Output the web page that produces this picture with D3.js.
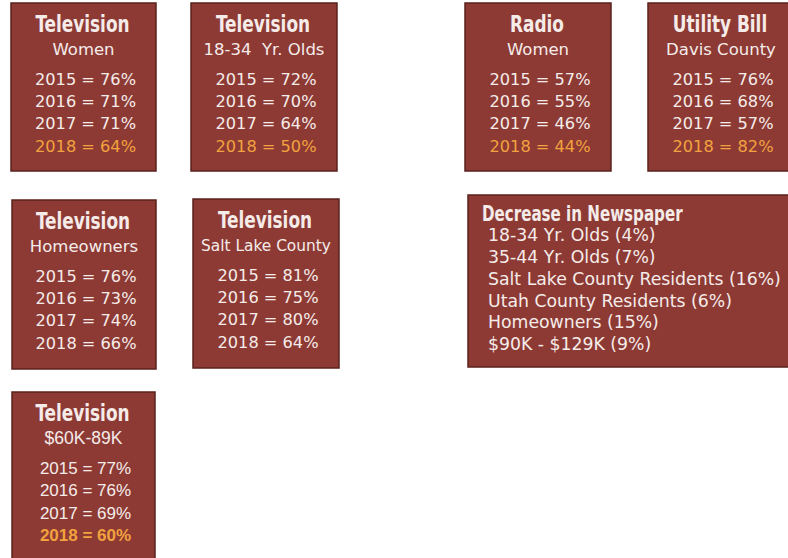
<!DOCTYPE html>
<html>
<head>
<meta charset="utf-8">
<script src="https://cdn.jsdelivr.net/npm/d3@7"></script>
<style>
  html, body { margin: 0; padding: 0; background: #ffffff; }
  svg { display: block; }
</style>
</head>
<body>
<svg id="chart" width="788" height="558"></svg>
<script>
// ---- DATA ----
const years = ["2015", "2016", "2017", "2018"];
const titles = ["Television", "Television", "Radio", "Utility Bill", "Television", "Television", "Television"];
const subtitles = ["Women", "18-34  Yr. Olds", "Women", "Davis County", "Homeowners", "Salt Lake County", "$60K-89K"];
const values = [
  [76, 71, 71, 64],
  [72, 70, 64, 50],
  [57, 55, 46, 44],
  [76, 68, 57, 82],
  [76, 73, 74, 66],
  [81, 75, 80, 64],
  [77, 76, 69, 60]
];
const highlightLatest = [true, true, true, true, false, false, true];
const newspaperTitle = "Decrease in Newspaper";
const newspaperGroups = ["18-34 Yr. Olds", "35-44 Yr. Olds", "Salt Lake County Residents", "Utah County Residents", "Homeowners", "$90K - $129K"];
const newspaperDecrease = [4, 7, 16, 6, 15, 9];

// ---- LAYOUT (positions & styles) ----
const boxLayout = [
  { x: 11, y: 3, w: 145, h: 168 },
  { x: 191, y: 3, w: 146, h: 168 },
  { x: 465, y: 3, w: 146, h: 168 },
  { x: 648, y: 3, w: 146, h: 168 },
  { x: 12, y: 200, w: 144, h: 169 },
  { x: 193, y: 199, w: 146, h: 169 },
  { x: 12, y: 392, w: 143, h: 170 }
];
const newsLayout = { x: 468, y: 195, w: 330, h: 172 };

const FILL = "#8d3a35";
const STROKE = "#5a201d";
const TEXT = "#f5ece9";
const ORANGE = "#f2a23e";
const TITLE_FONT = "'Liberation Sans Narrow', 'DejaVu Sans Condensed', 'Arial Narrow', sans-serif";
const BODY_FONT = "'DejaVu Sans', sans-serif";
const ARIAL_FONT = "'Liberation Sans', Arial, sans-serif";
const CONDENSE = 0.8;

const svg = d3.select("#chart");

// row scale inside each box
const rowY = d3.scalePoint().domain(years).range([76, 143]);

const boxes = titles.map((t, i) => ({
  title: t,
  subtitle: subtitles[i],
  values: values[i],
  highlight: highlightLatest[i],
  layout: boxLayout[i],
  arial: i === titles.length - 1
}));

const g = svg.selectAll("g.box")
  .data(boxes)
  .join("g")
  .attr("class", "box")
  .attr("transform", d => `translate(${d.layout.x},${d.layout.y})`);

g.append("rect")
  .attr("width", d => d.layout.w)
  .attr("height", d => d.layout.h)
  .attr("fill", FILL)
  .attr("stroke", STROKE)
  .attr("stroke-width", 1.5);

// condensed bold titles (horizontal scale emulates a narrow face)
g.append("text")
  .attr("transform", d => `translate(${d.layout.w / 2 - 1},21) scale(${CONDENSE},1)`)
  .attr("dy", "0.36em")
  .attr("text-anchor", "middle")
  .attr("fill", TEXT)
  .attr("font-family", TITLE_FONT)
  .attr("font-weight", "bold")
  .attr("font-size", 23.5)
  .text(d => d.title);

g.append("text")
  .attr("class", "sub")
  .attr("x", d => d.layout.w / 2)
  .attr("y", 46)
  .attr("dy", "0.36em")
  .attr("text-anchor", "middle")
  .attr("fill", TEXT)
  .attr("font-family", d => d.arial ? ARIAL_FONT : BODY_FONT)
  .attr("font-size", d => d.arial ? 17.5 : 16.5)
  .attr("xml:space", "preserve")
  .text(d => d.subtitle)
  .each(function (d) {
    const w = this.getComputedTextLength();
    const maxW = d.layout.w - 16;
    if (w > maxW) d3.select(this).attr("font-size", 16.5 * maxW / w);
  });

g.each(function (d) {
  d3.select(this).selectAll("text.row")
    .data(years.map((y, j) => ({ year: y, value: d.values[j], latest: j === years.length - 1, box: d })))
    .join("text")
    .attr("class", "row")
    .attr("x", r => r.box.layout.w / 2 + 2)
    .attr("y", r => rowY(r.year))
    .attr("dy", "0.36em")
    .attr("text-anchor", "middle")
    .attr("fill", r => (r.latest && r.box.highlight) ? ORANGE : TEXT)
    .attr("font-family", r => r.box.arial ? ARIAL_FONT : BODY_FONT)
    .attr("font-weight", r => (r.box.arial && r.latest) ? "bold" : "normal")
    .attr("font-size", r => r.box.arial ? 17 : 16.2)
    .text(r => `${r.year} = ${r.value}%`);
});

// ---- Newspaper box ----
const ng = svg.append("g").attr("transform", `translate(${newsLayout.x},${newsLayout.y})`);
ng.append("rect")
  .attr("width", newsLayout.w)
  .attr("height", newsLayout.h)
  .attr("fill", FILL)
  .attr("stroke", STROKE)
  .attr("stroke-width", 1.5);
ng.append("text")
  .attr("transform", `translate(14,18) scale(${CONDENSE},1)`)
  .attr("dy", "0.36em")
  .attr("fill", TEXT)
  .attr("font-family", TITLE_FONT)
  .attr("font-weight", "bold")
  .attr("font-size", 21)
  .text(newspaperTitle);

const newsY = d3.scalePoint().domain(newspaperGroups).range([40, 149]);
ng.selectAll("text.nrow")
  .data(newspaperGroups.map((n, i) => ({ name: n, v: newspaperDecrease[i] })))
  .join("text")
  .attr("class", "nrow")
  .attr("x", 20)
  .attr("y", d => newsY(d.name))
  .attr("dy", "0.36em")
  .attr("fill", TEXT)
  .attr("font-family", BODY_FONT)
  .attr("font-size", 17.3)
  .text(d => `${d.name} (${d.v}%)`);
</script>
</body>
</html>
